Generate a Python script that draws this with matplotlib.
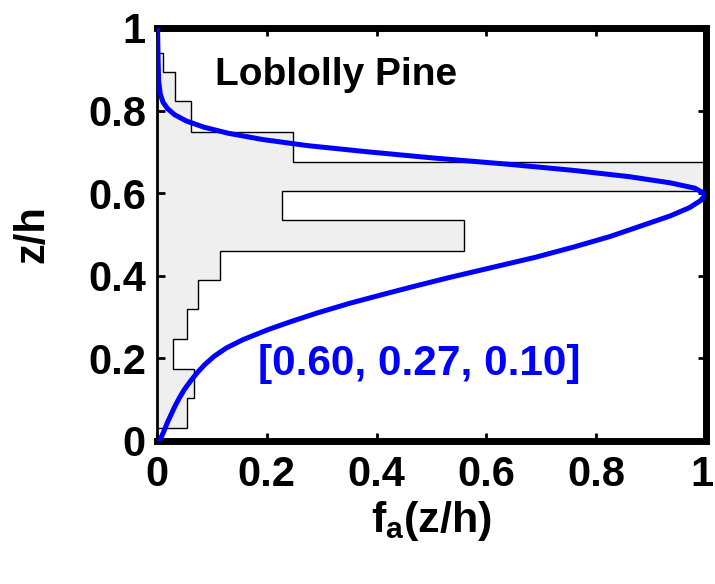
import numpy as np
import matplotlib
matplotlib.use("Agg")
from matplotlib import pyplot as plt
from matplotlib import transforms

plt.rcParams['font.family'] = ['Liberation Sans', 'DejaVu Sans']
plt.rcParams['font.weight'] = 'bold'
plt.rcParams['mathtext.fontset'] = 'custom'
plt.rcParams['mathtext.rm'] = 'Liberation Sans:bold'
plt.rcParams['mathtext.it'] = 'Liberation Sans:bold'

# measured leaf area profile (normalised), bins in z/h
bin_edges = [0.031, 0.103, 0.174, 0.247, 0.319, 0.390, 0.461, 0.534,
             0.605, 0.676, 0.749, 0.822, 0.894, 0.939]
bin_values = [0.054, 0.068, 0.029, 0.054, 0.075, 0.115, 0.560,
              0.228, 1.000, 0.248, 0.061, 0.033, 0.010]

# fitted profile with parameters [0.60, 0.27, 0.10]
fit_z = [0.000, 0.010, 0.025, 0.045, 0.065, 0.085, 0.105, 0.125, 0.145,
         0.165, 0.185, 0.205, 0.225, 0.245, 0.270, 0.290, 0.310, 0.333,
         0.355, 0.375, 0.395, 0.420, 0.445, 0.470, 0.495, 0.520, 0.545,
         0.565, 0.582, 0.597, 0.612, 0.625, 0.640, 0.655, 0.670, 0.685,
         0.700, 0.715, 0.730, 0.745, 0.760, 0.775, 0.790, 0.805, 0.820,
         0.840, 0.870, 0.920, 1.000]
fit_f = [0.004, 0.008, 0.013, 0.019, 0.026, 0.033, 0.041, 0.050, 0.061,
         0.073, 0.087, 0.104, 0.126, 0.156, 0.203, 0.246, 0.292, 0.350,
         0.412, 0.470, 0.530, 0.610, 0.690, 0.760, 0.825, 0.880, 0.935,
         0.970, 0.990, 1.000, 0.980, 0.935, 0.860, 0.760, 0.640, 0.505,
         0.385, 0.275, 0.192, 0.130, 0.085, 0.053, 0.032, 0.019, 0.011,
         0.006, 0.003, 0.002, 0.001]
fit_params = [0.60, 0.27, 0.10]

fig = plt.figure(figsize=(7.15, 5.84), dpi=100)
ax = fig.add_axes([0.2196, 0.2449, 0.7678, 0.7072])

ax.stairs(bin_values, bin_edges, orientation='horizontal', baseline=0,
          fill=True, facecolor='#efefef', edgecolor='none', zorder=1)
ax.stairs(bin_values, bin_edges, orientation='horizontal', baseline=0,
          fill=False, edgecolor='black', linewidth=1.0, zorder=2)
ax.plot(fit_f, fit_z, color='#0000ff', linewidth=3.6, zorder=3,
        solid_joinstyle='round', solid_capstyle='round')

ax.text(0.105, 0.862, "Loblolly Pine", fontsize=28, fontweight='bold',
        ha='left', va='baseline')
ax.text(0.184, 0.16, "[" + ", ".join(f"{p:.2f}" for p in fit_params) + "]",
        color='#0000ff', fontsize=30.5, fontweight='bold',
        ha='left', va='baseline')

ax.set_xlim(0, 1)
ax.set_ylim(0, 1)
ticks = [0, 0.2, 0.4, 0.6, 0.8, 1]
labels = ['0', '0.2', '0.4', '0.6', '0.8', '1']
ax.set_xticks(ticks)
ax.set_xticklabels(labels)
ax.set_yticks(ticks)
ax.set_yticklabels(labels)
ax.tick_params(direction='in', length=6, width=2, labelsize=30,
               top=True, right=True)
ax.tick_params(axis='x', pad=10)
ax.tick_params(axis='y', pad=8)

# keep the last x tick label inside the figure
last = ax.get_xticklabels()[-1]
last.set_transform(last.get_transform() +
                   transforms.ScaledTranslation(-4 / 100, 0, fig.dpi_scale_trans))

for side in ['top', 'bottom', 'right']:
    ax.spines[side].set_linewidth(5)
ax.spines['left'].set_linewidth(2)

ax.set_xlabel(r"f$_\mathrm{a}$(z/h)", fontsize=31, fontweight='bold')
ax.xaxis.set_label_coords(0.5, -0.14)
ax.set_ylabel("z/h", fontsize=30, fontweight='bold')
ax.yaxis.set_label_coords(-0.19, 0.5)

fig.savefig("out.png", dpi=100)
